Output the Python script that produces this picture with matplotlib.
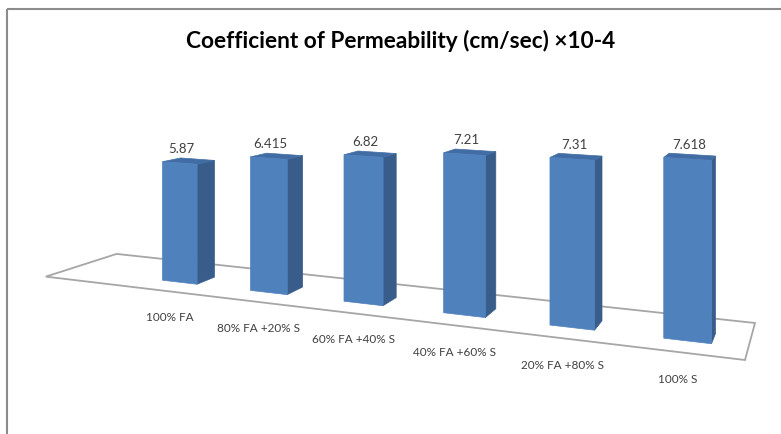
import numpy as np
import matplotlib.pyplot as plt
from matplotlib.patches import Polygon, Rectangle

categories = ["100% FA", "80% FA +20% S", "60% FA +40% S",
              "40% FA +60% S", "20% FA +80% S", "100% S"]
values = [5.87, 6.415, 6.82, 7.21, 7.31, 7.618]
value_labels = ["5.87", "6.415", "6.82", "7.21", "7.31", "7.618"]
title = "Coefficient of Permeability (cm/sec) \u00d710-4"

FRONT = "#4F81BD"
SIDE = "#385D8A"
TOP = "#416DA4"
TXT = "#404040"

# where the category band sits on screen (pixels):
# front-left, front-right, back-right, back-left
band_px = np.array([[116, 286], [745, 361], [755, 324], [182, 262]], float)
unit = np.array([[0, 0], [1, 0], [1, 1], [0, 1]], float)

def homography(src, dst):
    A = []
    for (x, y), (u, v) in zip(src, dst):
        A.append([x, y, 1, 0, 0, 0, -u*x, -u*y, -u])
        A.append([0, 0, 0, x, y, 1, -v*x, -v*y, -v])
    _, _, vt = np.linalg.svd(np.array(A))
    return vt[-1].reshape(3, 3)

H = homography(unit, band_px)
w0 = (H @ [0.5, 0.5, 1])[2]

k = 21.5    # pixels per unit of value
p = 1.0     # how much height follows the perspective

def proj(s, t, z=0.0):
    q = H @ [s, t, 1]
    x, y = q[0] / q[2], q[1] / q[2]
    return x, y - z * k * (w0 / q[2]) ** p


fig = plt.figure(figsize=(7.81, 4.35), dpi=100)
ax = fig.add_axes([0, 0, 1, 1])
ax.set_xlim(0, 781)
ax.set_ylim(435, 0)
ax.axis('off')

ax.add_patch(Rectangle((7, 10), 800, 450, fill=False, ec='#8c8c8c', lw=1.5))

# floor, reaching a little past the first category on the left
s_min = -0.14
floor = [proj(s_min, 0), proj(1, 0), proj(1, 1), proj(s_min, 1)]
ax.add_patch(Polygon(floor, closed=True, fc='white', ec='#a6a6a6', lw=1.3, zorder=1))

n = len(values)
t0, t1 = 0.30, 0.58
for i, v in enumerate(values):
    c = (i + 0.5) / n
    s0, s1 = c - 0.2 / n, c + 0.2 / n
    front = [proj(s0, t0), proj(s1, t0), proj(s1, t0, v), proj(s0, t0, v)]
    side = [proj(s1, t0), proj(s1, t1), proj(s1, t1, v), proj(s1, t0, v)]
    top = [proj(s0, t0, v), proj(s1, t0, v), proj(s1, t1, v), proj(s0, t1, v)]
    for pts, col in [(side, SIDE), (top, TOP), (front, FRONT)]:
        ax.add_patch(Polygon(pts, closed=True, fc=col, ec=col, lw=0.5, zorder=2 + i))

    tx, ty = proj(c, t0, v)
    ax.text(tx + 2, ty - 15, value_labels[i], ha='center', va='center',
            fontsize=9.5, color=TXT, family='Lato')

    lx = proj(c, t0)[0]
    ly = proj(c, 0)[1]
    ax.text(lx - 10, ly + 26, categories[i], ha='center', va='center',
            fontsize=8.5, color=TXT, family='Lato')

ax.text(401, 41, title, ha='center', va='center', fontsize=16.3,
        fontweight='bold', family='Lato', color='black')

fig.savefig('out.png', dpi=100)
